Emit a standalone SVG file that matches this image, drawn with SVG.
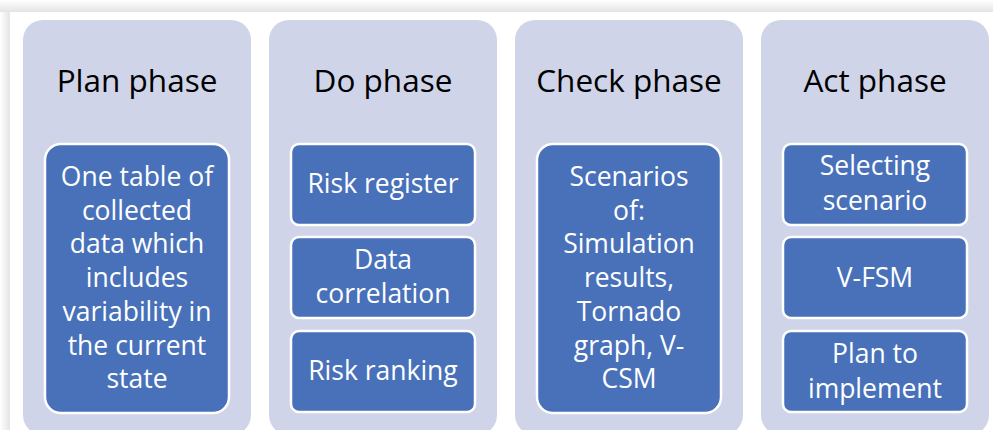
<svg xmlns="http://www.w3.org/2000/svg" width="993" height="430" viewBox="0 0 993 430">
<defs>
<linearGradient id="shTop" x1="0" y1="0" x2="0" y2="1">
<stop offset="0" stop-color="#ffffff"/>
<stop offset="1" stop-color="#e4e4e4"/>
</linearGradient>
<linearGradient id="shLeft" x1="0" y1="0" x2="1" y2="0">
<stop offset="0" stop-color="#ffffff"/>
<stop offset="1" stop-color="#e4e4e4"/>
</linearGradient>
<style>
.col{fill:#CFD4E9}
.box{fill:#4871BA;stroke:#ffffff;stroke-width:2.5}
.title{font-family:"Open Sans","Liberation Sans",sans-serif;font-size:31.5px;fill:#000000;text-anchor:middle}
.lbl{font-family:"Open Sans","Liberation Sans",sans-serif;font-size:26.5px;fill:#ffffff;text-anchor:middle}
</style>
</defs>
<rect x="0" y="0" width="993" height="430" fill="#ffffff"/>
<rect x="0" y="0" width="993" height="12" fill="url(#shTop)"/>
<rect x="0" y="12" width="10" height="418" fill="url(#shLeft)"/>
<rect x="10" y="12" width="983" height="418" fill="#ffffff"/>
<g id="connectors"/>
<g id="plan">
<rect class="col" x="23" y="20" width="228" height="415" rx="20"/>
<text class="title" x="137" y="92">Plan phase</text>
<rect class="box" x="45" y="144" width="184" height="269" rx="16"/>
<text class="lbl" x="137" y="186"><tspan x="137" y="186">One table of</tspan><tspan x="137" y="219.7">collected</tspan><tspan x="137" y="253.4">data which</tspan><tspan x="137" y="287">includes</tspan><tspan x="137" y="320.8">variability in</tspan><tspan x="137" y="354.5">the current</tspan><tspan x="137" y="388">state</tspan></text>
</g>
<g id="do">
<rect class="col" x="269" y="20" width="228" height="415" rx="20"/>
<text class="title" x="383" y="92">Do phase</text>
<g id="do-risk-register">
<rect class="box" x="291" y="144" width="184" height="81" rx="8"/>
<text class="lbl" x="383" y="193">Risk register</text>
</g>
<g id="do-data-correlation">
<rect class="box" x="291" y="237" width="184" height="81" rx="8"/>
<text class="lbl" x="383" y="269"><tspan x="383" y="269">Data</tspan><tspan x="383" y="303">correlation</tspan></text>
</g>
<g id="do-risk-ranking">
<rect class="box" x="291" y="331" width="184" height="81" rx="8"/>
<text class="lbl" x="383" y="380">Risk ranking</text>
</g>
</g>
<g id="check">
<rect class="col" x="515" y="20" width="228" height="415" rx="20"/>
<text class="title" x="629" y="92">Check phase</text>
<rect class="box" x="537" y="144" width="184" height="269" rx="16"/>
<text class="lbl" x="629" y="186"><tspan x="629" y="186">Scenarios</tspan><tspan x="629" y="219.7">of:</tspan><tspan x="629" y="253.4">Simulation</tspan><tspan x="629" y="287">results,</tspan><tspan x="629" y="320.8">Tornado</tspan><tspan x="629" y="354.5">graph, V-</tspan><tspan x="629" y="388">CSM</tspan></text>
</g>
<g id="act">
<rect class="col" x="761" y="20" width="228" height="415" rx="20"/>
<text class="title" x="875" y="92">Act phase</text>
<g id="act-selecting">
<rect class="box" x="783" y="144" width="184" height="81" rx="8"/>
<text class="lbl" x="875" y="175"><tspan x="875" y="175">Selecting</tspan><tspan x="875" y="210">scenario</tspan></text>
</g>
<g id="act-vfsm">
<rect class="box" x="783" y="237" width="184" height="81" rx="8"/>
<text class="lbl" x="875" y="287">V-FSM</text>
</g>
<g id="act-plan">
<rect class="box" x="783" y="331" width="184" height="81" rx="8"/>
<text class="lbl" x="875" y="363"><tspan x="875" y="363">Plan to</tspan><tspan x="875" y="398">implement</tspan></text>
</g>
</g>
</svg>
